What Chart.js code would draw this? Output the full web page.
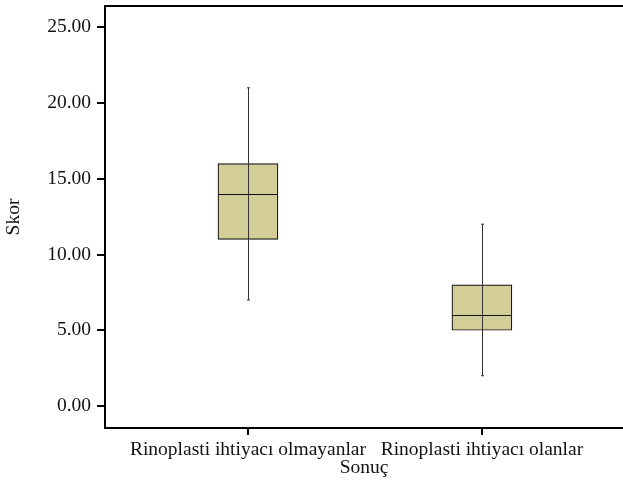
<!DOCTYPE html>
<html>
<head>
<meta charset="utf-8">
<script src="https://cdn.jsdelivr.net/npm/chart.js@4/dist/chart.umd.min.js"></script>
<style>
html,body{margin:0;padding:0;background:#fff;}
#wrap{width:623px;height:490px;}
</style>
</head>
<body>
<div id="wrap"><canvas id="c"></canvas></div>
<script>
const categories = ['Rinoplasti ihtiyacı olmayanlar', 'Rinoplasti ihtiyacı olanlar'];
const minVals = [7, 2];
const q1Vals = [11, 5];
const medianVals = [14, 6];
const q3Vals = [16, 8];
const maxVals = [21, 12];
const yTickVals = [0, 5, 10, 15, 20, 25];
const xTitle = 'Sonuç';
const yTitle = 'Skor';

const FONT = '"Liberation Serif", "DejaVu Serif", serif';
const FS = 19.5;
const boxFill = '#d3ce97';

const boxData = categories.map((c, i) => ({ x: i, y: [q1Vals[i], q3Vals[i]] }));

const whiskerPlugin = {
  id: 'whiskers',
  afterDatasetsDraw(chart) {
    const { ctx, scales: { x, y }, chartArea } = chart;
    ctx.save();
    categories.forEach((c, i) => {
      const px = Math.round(x.getPixelForValue(i)) + 0.5;
      const meta = chart.getDatasetMeta(0).data[i];
      const half = meta.width / 2;
      ctx.strokeStyle = '#333';
      ctx.lineWidth = 1;
      ctx.beginPath();
      ctx.moveTo(px, y.getPixelForValue(minVals[i]));
      ctx.lineTo(px, y.getPixelForValue(maxVals[i]));
      ctx.stroke();
      ctx.beginPath();
      ctx.moveTo(px - 1.5, y.getPixelForValue(minVals[i]));
      ctx.lineTo(px + 1.5, y.getPixelForValue(minVals[i]));
      ctx.moveTo(px - 1.5, y.getPixelForValue(maxVals[i]));
      ctx.lineTo(px + 1.5, y.getPixelForValue(maxVals[i]));
      ctx.stroke();
      const my = Math.round(y.getPixelForValue(medianVals[i])) + 0.5;
      ctx.strokeStyle = '#111';
      ctx.lineWidth = 1.2;
      ctx.beginPath();
      ctx.moveTo(meta.x - half, my);
      ctx.lineTo(meta.x + half, my);
      ctx.stroke();
    });
    ctx.strokeStyle = '#000';
    ctx.lineWidth = 2;
    ctx.beginPath();
    ctx.moveTo(chartArea.left - 1, chartArea.top);
    ctx.lineTo(chartArea.right + 2, chartArea.top);
    ctx.stroke();
    ctx.restore();
  }
};

new Chart(document.getElementById('c'), {
  type: 'bar',
  data: {
    datasets: [{
      data: boxData,
      backgroundColor: boxFill,
      borderColor: '#111',
      borderWidth: 1.2,
      borderSkipped: false,
      barThickness: 60
    }]
  },
  options: {
    responsive: true,
    maintainAspectRatio: false,
    animation: false,
    layout: { padding: { top: 6, right: 0, left: 0, bottom: 10 } },
    plugins: { legend: { display: false }, tooltip: { enabled: false } },
    scales: {
      x: {
        type: 'linear',
        offset: false,
        min: -0.611,
        max: 1.603,
        afterBuildTicks(scale) { scale.ticks = categories.map((c, i) => ({ value: i })); },
        afterFit(scale) { scale.height = 52; scale.paddingLeft = 0; scale.paddingRight = 0; },
        ticks: {
          callback: (v) => categories[v],
          color: '#111',
          font: { family: FONT, size: FS },
          padding: 3,
          maxRotation: 0,
          autoSkip: false
        },
        grid: { offset: false, drawOnChartArea: false, drawTicks: true, tickLength: 7, color: '#000', lineWidth: 2 },
        border: { display: true, color: '#000', width: 2 },
        title: { display: true, text: xTitle, color: '#111', font: { family: FONT, size: FS }, padding: { top: 0, bottom: 0 } }
      },
      y: {
        min: -1.45,
        max: 26.4,
        afterBuildTicks(scale) { scale.ticks = yTickVals.map(v => ({ value: v })); },
        afterFit(scale) { scale.width = 105; scale.paddingTop = 0; scale.paddingBottom = 0; },
        ticks: {
          callback: (v) => Number(v).toFixed(2),
          color: '#111',
          font: { family: FONT, size: FS },
          padding: 6
        },
        grid: { drawOnChartArea: false, drawTicks: true, tickLength: 8, color: '#000', lineWidth: 2 },
        border: { display: true, color: '#000', width: 2 },
        title: { display: true, text: yTitle, color: '#111', font: { family: FONT, size: FS }, padding: { top: 2, bottom: 0 } }
      }
    }
  },
  plugins: [whiskerPlugin]
});
</script>
</body>
</html>
